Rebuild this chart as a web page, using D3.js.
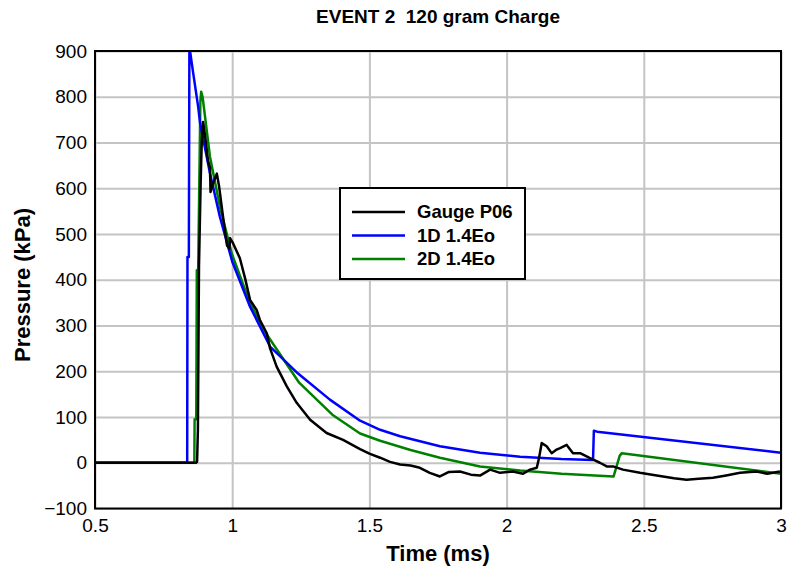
<!DOCTYPE html>
<html>
<head>
<meta charset="utf-8">
<script src="https://cdn.jsdelivr.net/npm/d3@7"></script>
<style>
  body { margin: 0; background: #fff; }
  text { font-family: "Liberation Sans", Arial, sans-serif; }
</style>
</head>
<body>
<script>
// tick labels
const xTicks = [0.5, 1, 1.5, 2, 2.5, 3];
const yTicks = [-100, 0, 100, 200, 300, 400, 500, 600, 700, 800, 900];

// Gauge P06 (measured)
const tGauge = [0.5, 0.868, 0.872, 0.875, 0.879, 0.885, 0.889, 0.894, 0.901, 0.912, 0.919, 0.921, 0.93, 0.944, 0.952, 0.966, 0.981, 0.99, 0.992, 1.003, 1.028, 1.047, 1.065, 1.089, 1.101, 1.126, 1.138, 1.162, 1.199, 1.235, 1.284, 1.344, 1.404, 1.466, 1.5, 1.539, 1.575, 1.612, 1.65, 1.684, 1.72, 1.757, 1.79, 1.83, 1.87, 1.903, 1.94, 1.976, 2.023, 2.06, 2.085, 2.11, 2.118, 2.128, 2.146, 2.164, 2.18, 2.195, 2.219, 2.242, 2.268, 2.304, 2.34, 2.365, 2.388, 2.424, 2.486, 2.53, 2.57, 2.61, 2.656, 2.7, 2.752, 2.8, 2.851, 2.911, 2.95, 2.996];
const pGauge = [0, 0, 2, 72, 430, 611, 700, 745, 715, 660, 645, 592, 610, 632, 605, 540, 475, 468, 491, 480, 447, 403, 356, 334, 312, 283, 250, 210, 167, 131, 94, 65, 50, 30, 20, 11, 2, -4, -6, -11, -22, -30, -20, -19, -26, -28, -15, -22, -19, -24, -15, -11, 10, 43, 36, 21, 28, 32, 39, 21, 21, 10, 0, -8, -8, -15, -22, -26, -30, -34, -37, -35, -33, -28, -22, -19, -24, -19];

// 1D 1.4Eo
const t1D = [0.5, 0.836, 0.837, 0.842, 0.844, 0.858, 0.876, 0.883, 0.919, 0.955, 1.0, 1.065, 1.138, 1.24, 1.356, 1.466, 1.539, 1.612, 1.757, 1.903, 2.049, 2.2, 2.315, 2.318, 2.33, 3.0];
const p1D = [0, 0, 450, 450, 910, 851, 778, 742, 633, 538, 440, 341, 254, 195, 138, 92, 72, 58, 36, 22, 13, 8, 6, 70, 68, 22];

// 2D 1.4Eo
const t2D = [0.5, 0.862, 0.863, 0.869, 0.871, 0.876, 0.884, 0.887, 0.892, 0.919, 0.955, 0.998, 1.065, 1.123, 1.244, 1.365, 1.466, 1.539, 1.65, 1.757, 1.903, 2.049, 2.2, 2.39, 2.412, 2.42, 3.0];
const p2D = [0, 0, 95, 95, 421, 421, 790, 811, 800, 669, 560, 458, 349, 283, 175, 105, 64, 48, 28, 11, -8, -17, -24, -30, 15, 21, -24];

const seriesNames = ["Gauge P06", "1D 1.4Eo", "2D 1.4Eo"];
const seriesColors = ["#000000", "#0000ff", "#008000"];

const W = 788, H = 571;
const margin = {top: 51, right: 7, bottom: 62.5, left: 95},
    width = W - margin.left - margin.right,
    height = H - margin.top - margin.bottom;

const svg = d3.select("body").append("svg")
    .attr("width", W)
    .attr("height", H);

const g = svg.append("g")
    .attr("transform", `translate(${margin.left},${margin.top})`);

const x = d3.scaleLinear().domain([0.5, 3]).range([0, width]);
const y = d3.scaleLinear().domain([-100, 900]).range([height, 0]);

// grid
g.append("g")
  .attr("transform", `translate(0,${height})`)
  .call(d3.axisBottom(x).tickValues(xTicks).tickSize(-height).tickFormat(""))
  .call(a => a.select(".domain").remove())
  .selectAll("line").attr("stroke", "#c4c4c4").attr("stroke-width", 2);

g.append("g")
  .call(d3.axisLeft(y).tickValues(yTicks).tickSize(-width).tickFormat(""))
  .call(a => a.select(".domain").remove())
  .selectAll("line").attr("stroke", "#c4c4c4").attr("stroke-width", 2);

// tick labels
g.append("g")
  .attr("transform", `translate(0,${height})`)
  .call(d3.axisBottom(x).tickValues(xTicks).tickSize(0).tickPadding(10).tickFormat(d3.format("")))
  .call(a => a.select(".domain").remove())
  .selectAll("text").attr("font-size", 19).attr("fill", "#000")
  .style("font-family", '"Liberation Sans", Arial, sans-serif');

g.append("g")
  .call(d3.axisLeft(y).tickValues(yTicks).tickSize(0).tickPadding(8))
  .call(a => a.select(".domain").remove())
  .selectAll("text").attr("font-size", 19).attr("fill", "#000")
  .style("font-family", '"Liberation Sans", Arial, sans-serif');

// lines, clipped to the plot frame
g.append("clipPath").attr("id", "clip")
  .append("rect").attr("width", width).attr("height", height);

const line = d3.line().x(d => x(d[0])).y(d => y(d[1]));
const series = [
  d3.zip(tGauge, pGauge),
  d3.zip(t1D, p1D),
  d3.zip(t2D, p2D)
];
[2, 1, 0].forEach(i => {
  g.append("path")
    .datum(series[i])
    .attr("clip-path", "url(#clip)")
    .attr("fill", "none")
    .attr("stroke", seriesColors[i])
    .attr("stroke-width", 2.5)
    .attr("stroke-linejoin", "round")
    .attr("d", line);
});

// frame
g.append("rect")
  .attr("width", width).attr("height", height)
  .attr("fill", "none").attr("stroke", "#000").attr("stroke-width", 2);

// legend
const lg = svg.append("g").attr("transform", "translate(340,188)");
lg.append("rect").attr("width", 185).attr("height", 91)
  .attr("fill", "#fff").attr("stroke", "#000").attr("stroke-width", 2);
seriesNames.forEach((name, i) => {
  const yy = 24 + i * 23.5;
  lg.append("line").attr("x1", 12).attr("x2", 65).attr("y1", yy).attr("y2", yy)
    .attr("stroke", seriesColors[i]).attr("stroke-width", 2.5);
  lg.append("text").attr("x", 77).attr("y", yy).attr("dy", "0.35em")
    .attr("font-size", 18.5).attr("font-weight", "bold").text(name);
});

// titles
svg.append("text")
  .attr("x", 438).attr("y", 23)
  .attr("text-anchor", "middle")
  .attr("font-size", 19).attr("font-weight", "bold")
  .attr("xml:space", "preserve")
  .text("EVENT 2  120 gram Charge");

svg.append("text")
  .attr("x", 438).attr("y", 561)
  .attr("text-anchor", "middle")
  .attr("font-size", 22).attr("font-weight", "bold")
  .text("Time (ms)");

svg.append("text")
  .attr("transform", "translate(30,285) rotate(-90)")
  .attr("text-anchor", "middle")
  .attr("font-size", 22).attr("font-weight", "bold")
  .text("Pressure (kPa)");
</script>
</body>
</html>
